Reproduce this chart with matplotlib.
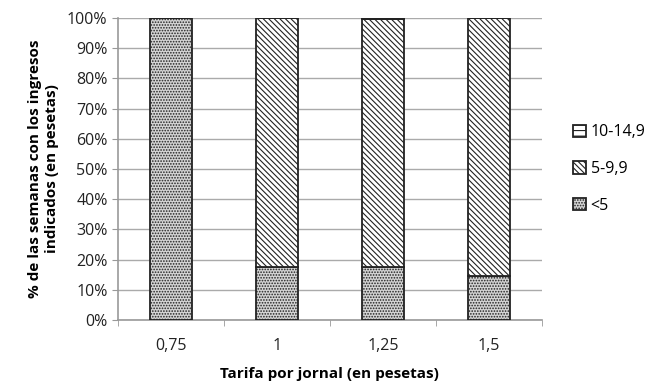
import matplotlib.pyplot as plt
import numpy as np
from matplotlib.ticker import PercentFormatter

plt.rcParams['font.family'] = ['Open Sans', 'DejaVu Sans']
plt.rcParams['hatch.linewidth'] = 0.8

categories = ['0,75', '1', '1,25', '1,5']
menos5 = [100, 17.5, 17.5, 14.5]
de5a9 = [0, 82.5, 82.0, 85.5]
de10a14 = [0, 0, 0.5, 0]

fig = plt.figure(figsize=(6.48, 3.82), dpi=100)
ax = fig.add_axes([0.182, 0.162, 0.654, 0.791])

x = np.arange(len(categories))
w = 0.4
b1 = ax.bar(x, menos5, w, color='#d4d4d4', edgecolor='#222222', hatch='......', linewidth=1.3, label='<5', zorder=3)
b2 = ax.bar(x, de5a9, w, bottom=menos5, color='white', edgecolor='#222222', hatch='\\\\\\\\\\\\', linewidth=1.3, label='5-9,9', zorder=3)
bottom3 = [a + b for a, b in zip(menos5, de5a9)]
b3 = ax.bar(x, de10a14, w, bottom=bottom3, color='white', edgecolor='#222222', hatch='---', linewidth=1.3, label='10-14,9', zorder=3)

ax.set_xlim(-0.5, len(categories) - 0.5)
ax.set_ylim(0, 100)
ax.set_yticks(range(0, 101, 10))
ax.yaxis.set_major_formatter(PercentFormatter(decimals=0))
ax.set_xticks(x)
ax.set_xticklabels(categories)
ax.set_xticks(np.arange(-0.5, len(categories)), minor=True)
ax.tick_params(axis='x', which='major', length=0, pad=13)
ax.tick_params(axis='x', which='minor', length=4, color='#999999')
ax.tick_params(axis='y', length=4, color='#999999')
ax.tick_params(labelsize=11.5, labelcolor='#222222')

ax.grid(axis='y', color='#aaaaaa', linewidth=1, zorder=0)
for s in ['top', 'right']:
    ax.spines[s].set_visible(False)
for s in ['left', 'bottom']:
    ax.spines[s].set_color('#999999')
    ax.spines[s].set_linewidth(1.2)

ax.set_xlabel('Tarifa por jornal (en pesetas)', fontsize=11, fontweight='bold', labelpad=9)
ax.set_ylabel('% de las semanas con los ingresos\nindicados (en pesetas)', fontsize=11,
              fontweight='bold', labelpad=6)

ax.legend(handles=[b3, b2, b1], loc='center left', bbox_to_anchor=(1.04, 0.5), frameon=False,
          fontsize=11.5, handlelength=0.8, handleheight=0.8, handletextpad=0.3, labelspacing=1.3)

fig.savefig('out.png', dpi=100)
